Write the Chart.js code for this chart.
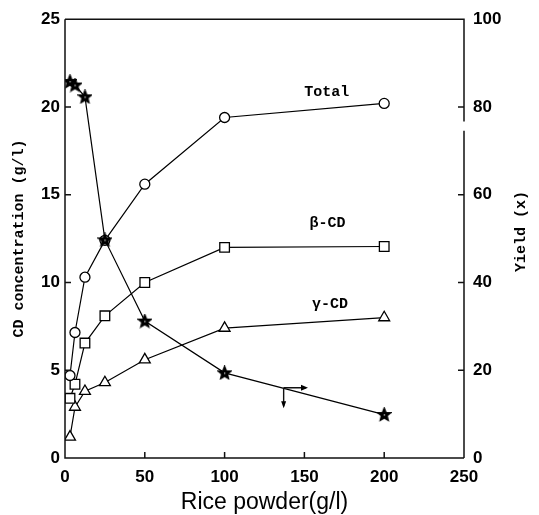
<!DOCTYPE html>
<html>
<head>
<meta charset="utf-8">
<script src="https://cdn.jsdelivr.net/npm/chart.js@4.4.0/dist/chart.umd.min.js"></script>
<style>
  html, body { margin: 0; padding: 0; background: #fff; }
  canvas { display: block; }
</style>
</head>
<body>
<canvas id="cdChart" width="539" height="515"></canvas>
<script>
// rice powder concentration (g/l)
const ricePowder = [3.125, 6.25, 12.5, 25, 50, 100, 200];
// CD concentration (g/l)
const totalCD = [4.7, 7.15, 10.3, 12.4, 15.6, 19.4, 20.2];
const betaCD = [3.4, 4.2, 6.55, 8.1, 10.0, 12.0, 12.05];
const gammaCD = [1.2, 2.9, 3.8, 4.3, 5.6, 7.4, 8.0];
// yield (%)
const yieldPct = [85.8, 85.0, 82.3, 49.7, 31.2, 19.4, 9.9];

const xTicks = [0, 50, 100, 150, 200, 250];
const cdTicks = [0, 5, 10, 15, 20, 25];
const yieldTicks = [0, 20, 40, 60, 80, 100];
const seriesNames = ['Total', 'β-CD', 'γ-CD'];

const tickFont = { family: '"Liberation Sans", Arial, sans-serif', size: 17, weight: 'bold' };
const monoFont = '"Liberation Mono", "DejaVu Sans Mono", monospace';

function toPoints(xs, ys) {
    return xs.map((x, i) => ({ x: x, y: ys[i] }));
}

// black five point star used as the yield marker
function makeStar() {
    const c = document.createElement('canvas');
    c.width = 15; c.height = 15;
    const g = c.getContext('2d');
    g.beginPath();
    for (let i = 0; i < 10; i++) {
        const r = i % 2 === 0 ? 6.5 : 2.9;
        const a = -Math.PI / 2 + i * Math.PI / 5;
        const px = 7.5 + r * Math.cos(a), py = 7.8 + r * Math.sin(a);
        if (i === 0) g.moveTo(px, py); else g.lineTo(px, py);
    }
    g.closePath();
    g.fillStyle = '#000';
    g.fill();
    g.lineWidth = 1.6;
    g.strokeStyle = '#000';
    g.stroke();
    // little white speck in the middle, like the print
    g.fillStyle = '#fff';
    g.fillRect(7, 7.3, 1.2, 1.2);
    return c;
}

function lineSet(label, data, style, radius, axis, order) {
    return {
        label: label,
        data: data,
        yAxisID: axis,
        order: order,
        showLine: true,
        borderColor: '#000',
        borderWidth: 1.2,
        pointStyle: style,
        pointRadius: radius,
        pointBorderWidth: 1.3,
        pointBorderColor: '#000',
        pointBackgroundColor: '#fff'
    };
}

const framePlugin = {
    id: 'frame',
    afterDraw(chart) {
        const { ctx, chartArea: a, scales } = chart;
        const x = scales.x, y = scales.y, y1 = scales.y1;
        ctx.save();
        ctx.strokeStyle = '#111';
        ctx.lineWidth = 1.5;
        ctx.beginPath();
        ctx.moveTo(a.left, a.top);
        ctx.lineTo(a.left, a.bottom);
        ctx.lineTo(a.right, a.bottom);
        ctx.moveTo(a.left, a.top);
        ctx.lineTo(a.right, a.top);
        // right axis has a small break under 80
        ctx.lineTo(a.right, y1.getPixelForValue(76.7));
        ctx.moveTo(a.right, y1.getPixelForValue(74.6));
        ctx.lineTo(a.right, a.bottom);
        // inward tick marks
        const len = 6;
        cdTicks.slice(1, -1).forEach(v => {
            const py = y.getPixelForValue(v);
            ctx.moveTo(a.left, py); ctx.lineTo(a.left + len, py);
        });
        yieldTicks.slice(1, -1).forEach(v => {
            const py = y1.getPixelForValue(v);
            ctx.moveTo(a.right, py); ctx.lineTo(a.right - len, py);
        });
        xTicks.slice(1, -1).forEach(v => {
            const px = x.getPixelForValue(v);
            ctx.moveTo(px, a.bottom); ctx.lineTo(px, a.bottom - len);
        });
        ctx.stroke();

        // series labels
        ctx.fillStyle = '#000';
        ctx.font = 'bold 15px ' + monoFont;
        ctx.textAlign = 'center';
        ctx.textBaseline = 'middle';
        ctx.fillText(seriesNames[0], x.getPixelForValue(164), y.getPixelForValue(20.85));
        ctx.fillText(seriesNames[1], x.getPixelForValue(164.5), y.getPixelForValue(13.35));
        ctx.fillText(seriesNames[2], x.getPixelForValue(166), y.getPixelForValue(8.75));

        // arrows telling the star line belongs to the right axis
        const ax = x.getPixelForValue(137), ay = y1.getPixelForValue(16);
        const hx = x.getPixelForValue(151), vy = y1.getPixelForValue(11.8);
        ctx.lineWidth = 1.4;
        ctx.beginPath();
        ctx.moveTo(ax, ay); ctx.lineTo(hx, ay);
        ctx.moveTo(ax, ay); ctx.lineTo(ax, vy);
        ctx.stroke();
        ctx.beginPath();
        ctx.moveTo(hx + 2, ay); ctx.lineTo(hx - 5, ay - 3); ctx.lineTo(hx - 5, ay + 3); ctx.closePath();
        ctx.moveTo(ax, vy + 2); ctx.lineTo(ax - 2.5, vy - 5); ctx.lineTo(ax + 2.5, vy - 5); ctx.closePath();
        ctx.fill();

        // right axis title reads bottom to top
        ctx.save();
        ctx.translate(y1.right - 18, (a.top + a.bottom) / 2 - 7);
        ctx.rotate(-Math.PI / 2);
        ctx.font = 'bold 15px ' + monoFont;
        ctx.fillText('Yield (x)', 0, 0);
        ctx.restore();
        ctx.restore();
    }
};

const ctx = document.getElementById('cdChart').getContext('2d');
const chart = new Chart(ctx, {
    type: 'scatter',
    data: {
        datasets: [
            lineSet('Total', toPoints(ricePowder, totalCD), 'circle', 5, 'y', 1),
            lineSet('β-CD', toPoints(ricePowder, betaCD), 'rect', 6.8, 'y', 2),
            lineSet('γ-CD', toPoints(ricePowder, gammaCD), 'triangle', 6.3, 'y', 3),
            // stars sit on top of the other marks
            lineSet('Yield', toPoints(ricePowder, yieldPct), makeStar(), 7, 'y1', 0)
        ]
    },
    options: {
        responsive: false,
        animation: false,
        layout: { padding: { top: 13, left: 0, right: 0, bottom: 0 } },
        plugins: {
            legend: { display: false },
            tooltip: { enabled: false }
        },
        scales: {
            x: {
                type: 'linear',
                min: 0,
                max: 250,
                afterBuildTicks: s => { s.ticks = xTicks.map(v => ({ value: v })); },
                afterFit: s => { s.height = 57; },
                grid: { display: false, tickLength: 0 },
                border: { display: false },
                ticks: { color: '#000', font: tickFont, padding: 9, maxRotation: 0 },
                title: {
                    display: true,
                    text: 'Rice powder(g/l)',
                    color: '#000',
                    font: { family: '"Liberation Sans", Arial, sans-serif', size: 23, lineHeight: 1.1 },
                    padding: { top: 0, bottom: 0 }
                }
            },
            y: {
                position: 'left',
                min: 0,
                max: 25,
                afterBuildTicks: s => { s.ticks = cdTicks.map(v => ({ value: v })); },
                afterFit: s => { s.width = 65; },
                grid: { display: false, tickLength: 0 },
                border: { display: false },
                ticks: { color: '#000', font: tickFont, padding: 5 },
                title: {
                    display: true,
                    text: 'CD concentration (g/l)',
                    color: '#000',
                    font: { family: monoFont, size: 15, weight: 'bold', lineHeight: 1.2 },
                    padding: { top: 10, bottom: 0 }
                }
            },
            y1: {
                position: 'right',
                min: 0,
                max: 100,
                afterBuildTicks: s => { s.ticks = yieldTicks.map(v => ({ value: v })); },
                afterFit: s => { s.width = 75; },
                grid: { display: false, tickLength: 0 },
                border: { display: false },
                ticks: { color: '#000', font: tickFont, padding: 9 }
            }
        }
    },
    plugins: [framePlugin]
});
</script>
</body>
</html>
